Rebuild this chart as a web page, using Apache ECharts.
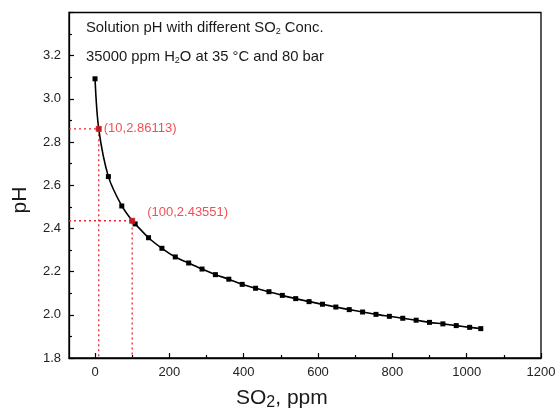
<!DOCTYPE html>
<html>
<head>
<meta charset="utf-8">
<script src="https://cdn.jsdelivr.net/npm/echarts@6/dist/echarts.min.js"></script>
<style>
html,body{margin:0;padding:0;background:#fff;}
#c{width:559px;height:416px;}
</style>
</head>
<body>
<div id="c"></div>
<script>
// ---- data ----
const so2 = [0, 10, 36, 72, 100, 108, 144, 180, 216, 252, 288, 324, 360, 396, 432, 468, 504, 540, 576, 612, 648, 684, 720, 756, 792, 828, 864, 900, 936, 972, 1008, 1038];
const pH  = [3.093, 2.86113, 2.640, 2.504, 2.43551, 2.421, 2.357, 2.308, 2.268, 2.240, 2.212, 2.186, 2.165, 2.141, 2.123, 2.107, 2.090, 2.075, 2.061, 2.049, 2.036, 2.024, 2.013, 2.002, 1.993, 1.984, 1.975, 1.965, 1.958, 1.950, 1.942, 1.936];
const annotX = [10, 100];
const annotY = [2.86113, 2.43551];
const annotLabels = ['(10,2.86113)', '(100,2.43551)'];
const xMajorTicks = [0, 200, 400, 600, 800, 1000, 1200];
const xMinorTicks = [100, 300, 500, 700, 900, 1100];
const X_MIN = -70, X_MAX = 1200, Y_MIN = 1.8, Y_MAX = 3.4;

const FONT = 'Liberation Sans, Arial, sans-serif';
const RED = '#e8262d';

const chart = echarts.init(document.getElementById('c'), null, {renderer: 'canvas'});

const lineData = so2.map((x, i) => [x, pH[i]]);
const redPts = annotX.map((x, i) => [x, annotY[i]]);
const guideSeries = annotX.map((x, i) => ({
  type: 'line',
  data: [[X_MIN, annotY[i]], [x, annotY[i]], [x, Y_MIN]],
  symbol: 'none',
  silent: true,
  lineStyle: {color: RED, width: 1.3, type: [2, 3]},
  z: 2,
  animation: false
}));

const txt = (size, extra) => Object.assign({fontFamily: FONT, fontSize: size, fontWeight: 'normal', color: '#1a1a1a'}, extra || {});

const option = {
  animation: false,
  grid: {left: 69, right: 18, top: 12.5, bottom: 58, show: true, borderColor: '#000', borderWidth: 1.3, backgroundColor: 'transparent'},
  title: [
    {
      left: 86, top: 19, padding: 0,
      text: '{a|Solution pH with different SO}{b|2}{a| Conc.}',
      textStyle: {fontWeight: 'normal', rich: {
        a: txt(14.8, {lineHeight: 17}),
        b: txt(9, {lineHeight: 10, verticalAlign: 'bottom'})
      }}
    },
    {
      left: 86, top: 48, padding: 0,
      text: '{a|35000 ppm H}{b|2}{a|O at 35 °C and 80 bar}',
      textStyle: {fontWeight: 'normal', rich: {
        a: txt(14.8, {lineHeight: 17}),
        b: txt(9, {lineHeight: 10, verticalAlign: 'bottom'})
      }}
    },
    {
      left: 236, top: 386, padding: 0,
      text: '{n|SO}{s|2}{n|, ppm}',
      textStyle: {fontWeight: 'normal', rich: {
        n: txt(21, {lineHeight: 25}),
        s: txt(16, {lineHeight: 16, verticalAlign: 'bottom'})
      }}
    }
  ],
  graphic: [
    {type: 'text', x: 20, y: 200, rotation: Math.PI / 2,
     style: {text: 'pH', font: '21px ' + FONT, fill: '#1a1a1a', align: 'center', verticalAlign: 'middle'}}
  ],
  xAxis: [
    {
      type: 'value', min: X_MIN, max: X_MAX, position: 'bottom',
      splitLine: {show: false},
      axisLine: {show: true, onZero: false, lineStyle: {color: '#000', width: 1.3}},
      axisTick: {show: true, inside: true, length: 5, customValues: xMajorTicks, lineStyle: {color: '#000', width: 1.2}},
      axisLabel: {customValues: xMajorTicks, margin: 8, fontFamily: FONT, fontSize: 13, color: '#222',
                  formatter: v => String(Math.round(v))}
    },
    {
      type: 'value', min: X_MIN, max: X_MAX, position: 'bottom',
      splitLine: {show: false},
      axisLine: {show: false},
      axisTick: {show: true, inside: true, length: 3, customValues: xMinorTicks, lineStyle: {color: '#000', width: 1.2}},
      axisLabel: {show: false}
    }
  ],
  yAxis: {
    type: 'value', min: Y_MIN, max: Y_MAX, interval: 0.2,
    splitLine: {show: false},
    axisLine: {show: true, onZero: false, lineStyle: {color: '#000', width: 1.3}},
    axisTick: {show: true, inside: true, length: 5, lineStyle: {color: '#000', width: 1.2}},
    minorTick: {show: true, splitNumber: 2, length: 3, lineStyle: {color: '#000', width: 1.2}},
    axisLabel: {
      margin: 8, fontFamily: FONT, fontSize: 13, color: '#222',
      formatter: v => (Math.abs(v - Y_MAX) < 1e-6 ? '' : v.toFixed(1))
    }
  },
  series: [
    ...guideSeries,
    {
      type: 'line', data: lineData, smooth: 0.3,
      symbol: 'rect', symbolSize: 5,
      itemStyle: {color: '#000'},
      lineStyle: {color: '#000', width: 1.6},
      z: 3
    },
    {
      type: 'scatter', data: redPts, symbol: 'rect', symbolSize: 6,
      itemStyle: {color: RED}, z: 5,
      label: {
        show: true, color: RED, fontFamily: FONT, fontSize: 13,
        formatter: p => annotLabels[p.dataIndex]
      },
      labelLayout: function (params) {
        const i = params.dataIndex;
        const r = params.rect;
        const cx = r.x + r.width / 2, cy = r.y + r.height / 2;
        if (i === 0) return {x: cx + 5, y: cy, align: 'left', verticalAlign: 'middle'};
        return {x: cx + 15, y: cy - 8, align: 'left', verticalAlign: 'middle'};
      }
    }
  ]
};
chart.setOption(option);
</script>
</body>
</html>
